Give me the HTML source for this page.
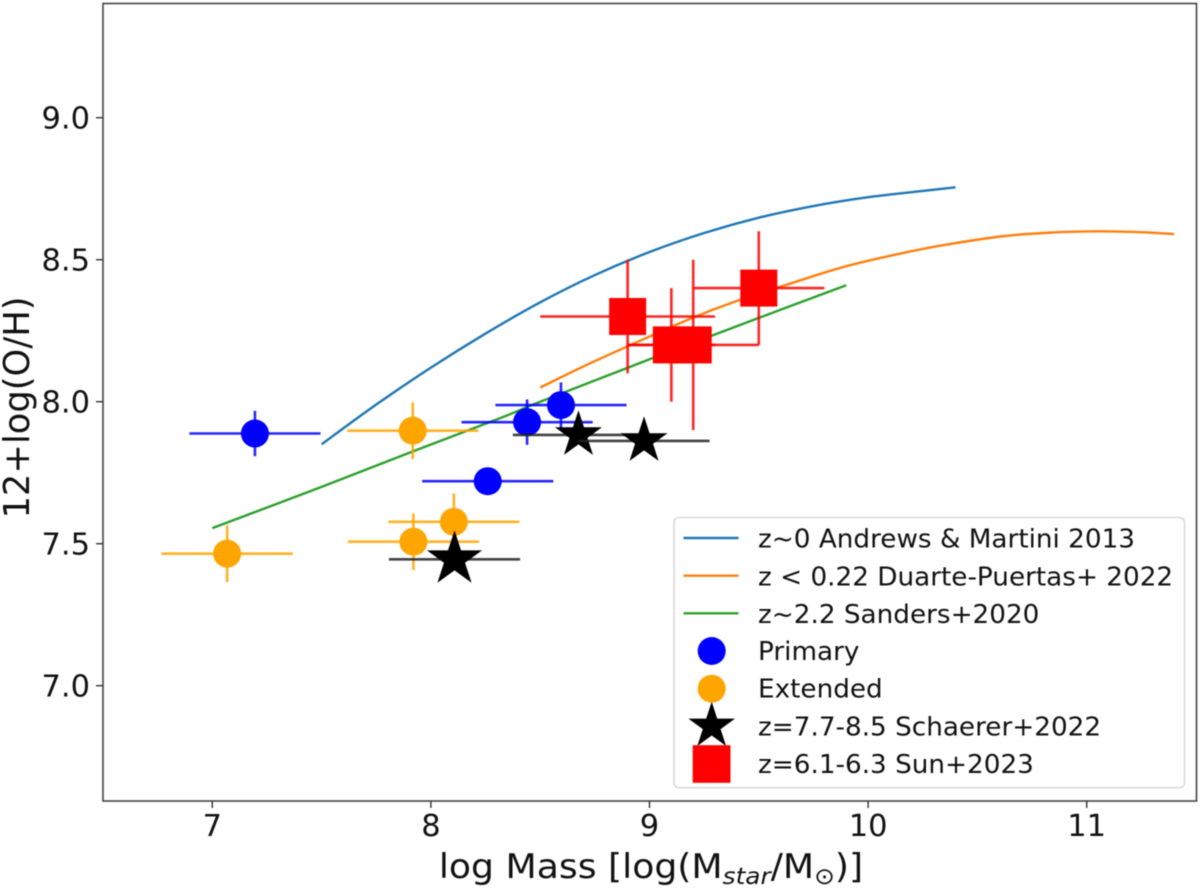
<!DOCTYPE html>
<html lang="en">
<head>
<meta charset="utf-8">
<title>Mass-metallicity relation</title>
<style>
html,body{margin:0;padding:0;background:#fff;width:1200px;height:889px;overflow:hidden}
svg{display:block;filter:blur(0.55px)}
text{font-family:"DejaVu Sans","Liberation Sans",sans-serif;fill:#111}
</style>
</head>
<body>
<svg id="chart" xmlns="http://www.w3.org/2000/svg" width="1200" height="889" viewBox="0 0 1200 889">
  <rect x="103" y="3.5" width="1093.5" height="797.5" fill="#fff"/>
  <g id="curves"></g>
  <g id="points"></g>
  <rect x="103" y="3.5" width="1093.5" height="797.5" fill="none" stroke="#444" stroke-width="1.6"/>
  <g id="ticks"></g>
  <text transform="translate(651,878) scale(1.08,1)" font-size="33.5" text-anchor="middle">log Mass [log(M<tspan font-size="23" font-style="italic" dy="6">star</tspan><tspan dy="-6">/M</tspan><tspan font-size="23" dy="6">⊙</tspan><tspan dy="-6">)]</tspan></text>
  <text transform="translate(29,407.5) rotate(-90)" font-size="35.3" text-anchor="middle">12+log(O/H)</text>
  <g>
    <rect x="674" y="517.5" width="510.5" height="270.2" rx="5" fill="#fff" fill-opacity="0.85" stroke="#d8d8d8" stroke-width="1.5"/>
    <g>
      <line x1="683.5" x2="738.5" y1="538" y2="538" stroke="#1f77b4" stroke-width="2.4"/>
      <text transform="translate(758,547.5) scale(1.03,1)" font-size="25.5">z~0 Andrews &amp; Martini 2013</text>
    </g>
    <g>
      <line x1="683.5" x2="738.5" y1="575.7" y2="575.7" stroke="#ff7f0e" stroke-width="2.4"/>
      <text transform="translate(758,585.5) scale(1.03,1)" font-size="25.5">z &lt; 0.22 Duarte-Puertas+ 2022</text>
    </g>
    <g>
      <line x1="683.5" x2="738.5" y1="613.3" y2="613.3" stroke="#2ca02c" stroke-width="2.4"/>
      <text transform="translate(758,623) scale(1.03,1)" font-size="25.5">z~2.2 Sanders+2020</text>
    </g>
    <g>
      <circle cx="711.7" cy="651" r="14" fill="#0000ff"/>
      <text transform="translate(758,660) scale(1.03,1)" font-size="25.5">Primary</text>
    </g>
    <g>
      <circle cx="711.7" cy="688.7" r="14" fill="#ffa500"/>
      <text transform="translate(758,697.7) scale(1.03,1)" font-size="25.5">Extended</text>
    </g>
    <g>
      <polygon id="legend-star" fill="#000"/>
      <text transform="translate(758,735.5) scale(1.03,1)" font-size="25.5">z=7.7-8.5 Schaerer+2022</text>
    </g>
    <g>
      <rect x="692.7" y="745.2" width="37.8" height="37.6" fill="#ff0000"/>
      <text transform="translate(758,773.2) scale(1.03,1)" font-size="25.5">z=6.1-6.3 Sun+2023</text>
    </g>
  </g>
</svg>
<script>
// Axis tick labels
const xTicks = [7, 8, 9, 10, 11];
const yTicks = ["7.0", "7.5", "8.0", "8.5", "9.0"];

// Relation curves
const andrewsMass = [7.5, 7.75, 8.0, 8.25, 8.5, 8.75, 9.0, 9.25, 9.5, 9.75, 10.0, 10.25, 10.4];
const andrewsOH = [7.85, 7.99, 8.12, 8.24, 8.35, 8.446, 8.527, 8.594, 8.648, 8.689, 8.72, 8.742, 8.755];
const duarteMass = [8.5, 8.7, 8.9, 9.18, 9.4, 9.66, 9.89, 10.15, 10.35, 10.62, 10.85, 11.05, 11.25, 11.4];
const duarteOH = [8.05, 8.125, 8.195, 8.29, 8.355, 8.42, 8.475, 8.522, 8.552, 8.583, 8.596, 8.60, 8.597, 8.59];
const sandersMass = [7.0, 7.5, 7.9, 8.32, 8.5, 9.02, 9.5, 9.9];
const sandersOH = [7.555, 7.70, 7.82, 7.943, 8.0, 8.155, 8.295, 8.41];

// Primary sample
const primaryMass = [7.195, 8.26, 8.44, 8.595];
const primaryOH = [7.888, 7.72, 7.928, 7.988];
const primaryMassErr = [0.3, 0.3, 0.3, 0.3];
const primaryOHErr = [0.08, 0, 0.08, 0.08];

// Extended sample
const extendedMass = [7.068, 7.917, 7.92, 8.105];
const extendedOH = [7.465, 7.898, 7.507, 7.577];
const extendedMassErr = [0.3, 0.3, 0.3, 0.3];
const extendedOHErr = [0.1, 0.1, 0.1, 0.1];

// Schaerer+2022
const schaererMass = [8.108, 8.675, 8.975];
const schaererOH = [7.445, 7.883, 7.862];
const schaererMassErr = [0.3, 0.3, 0.3];

// Sun+2023
const sunMass = [8.9, 9.5, 9.1, 9.2];
const sunOH = [8.3, 8.4, 8.2, 8.2];
const sunMassErr = [0.4, 0.3, 0.2, 0.3];
const sunOHErr = [0.2, 0.2, 0.2, 0.3];

const NS = 'http://www.w3.org/2000/svg';
function xs(v) { return 212.3 + (v - 7) * 218.6; }
function ys(v) { return 117.7 + (9 - v) * 284; }

function mk(tag, parent) {
  const el = document.createElementNS(NS, tag);
  parent.appendChild(el);
  return el;
}

function seg(parent, x1, y1, x2, y2, color, width, opacity) {
  const el = mk('line', parent);
  el.setAttribute('x1', x1);
  el.setAttribute('y1', y1);
  el.setAttribute('x2', x2);
  el.setAttribute('y2', y2);
  el.setAttribute('stroke', color);
  el.setAttribute('stroke-width', width);
  el.setAttribute('stroke-opacity', opacity);
  return el;
}

function starPoints(cx, cy, R) {
  const pts = [];
  for (let i = 0; i < 10; i++) {
    const r = i % 2 === 0 ? R : R * 0.382;
    const a = -Math.PI / 2 + i * Math.PI / 5;
    pts.push((cx + r * Math.cos(a)).toFixed(2) + ',' + (cy + r * Math.sin(a)).toFixed(2));
  }
  return pts.join(' ');
}

document.getElementById('legend-star').setAttribute('points', starPoints(711.7, 726.2, 24.5));

// Smooth path through the data points (Catmull-Rom)
function smoothPath(xv, yv) {
  const p = xv.map((v, i) => [xs(v), ys(yv[i])]);
  let d = 'M' + p[0][0] + ',' + p[0][1];
  for (let i = 0; i < p.length - 1; i++) {
    const p0 = p[Math.max(i - 1, 0)];
    const p1 = p[i];
    const p2 = p[i + 1];
    const p3 = p[Math.min(i + 2, p.length - 1)];
    const c1x = p1[0] + (p2[0] - p0[0]) / 6;
    const c1y = p1[1] + (p2[1] - p0[1]) / 6;
    const c2x = p2[0] - (p3[0] - p1[0]) / 6;
    const c2y = p2[1] - (p3[1] - p1[1]) / 6;
    d += ' C' + c1x + ',' + c1y + ' ' + c2x + ',' + c2y + ' ' + p2[0] + ',' + p2[1];
  }
  return d;
}

// Curves
const curvesG = document.getElementById('curves');
function drawCurve(xsArr, ysArr, color, name) {
  const el = mk('path', curvesG);
  
  
  el.setAttribute('fill', 'none');
  el.setAttribute('stroke', color);
  el.setAttribute('stroke-width', '2.4');
  el.setAttribute('d', smoothPath(xsArr, ysArr));
}
drawCurve(andrewsMass, andrewsOH, '#1f77b4', 'andrews-martini-curve');
drawCurve(duarteMass, duarteOH, '#ff7f0e', 'duarte-puertas-curve');
drawCurve(sandersMass, sandersOH, '#2ca02c', 'sanders-curve');

// Points
const pointsG = document.getElementById('points');

function drawErr(g, x, y, xe, ye, color) {
  if (xe > 0) {
    const h = seg(g, xs(x - xe), ys(y), xs(x + xe), ys(y), color, 2.6, 0.85);
    
    
  }
  if (ye > 0) {
    const v = seg(g, xs(x), ys(y + ye), xs(x), ys(y - ye), color, 2.6, 0.85);
    
    
  }
}

primaryMass.forEach((m, i) => {
  const g = mk('g', pointsG);
  
  
  drawErr(g, m, primaryOH[i], primaryMassErr[i], primaryOHErr[i], '#0000ff');
  const c = mk('circle', g);
  
  
  c.setAttribute('cx', xs(m));
  c.setAttribute('cy', ys(primaryOH[i]));
  c.setAttribute('r', 14);
  c.setAttribute('fill', '#0000ff');
});

extendedMass.forEach((m, i) => {
  const g = mk('g', pointsG);
  
  
  drawErr(g, m, extendedOH[i], extendedMassErr[i], extendedOHErr[i], '#ffa500');
  const c = mk('circle', g);
  
  
  c.setAttribute('cx', xs(m));
  c.setAttribute('cy', ys(extendedOH[i]));
  c.setAttribute('r', 14);
  c.setAttribute('fill', '#ffa500');
});

schaererMass.forEach((m, i) => {
  const g = mk('g', pointsG);
  
  
  drawErr(g, m, schaererOH[i], schaererMassErr[i], 0, '#222222');
  const s = mk('polygon', g);
  
  
  s.setAttribute('fill', '#000');
  s.setAttribute('points', starPoints(xs(m), ys(schaererOH[i]), i === 0 ? 29 : 24.7));
});

sunMass.forEach((m, i) => {
  const g = mk('g', pointsG);
  
  
  drawErr(g, m, sunOH[i], sunMassErr[i], sunOHErr[i], '#ff0000');
  const r = mk('rect', g);
  
  
  r.setAttribute('x', xs(m) - 18.5);
  r.setAttribute('y', ys(sunOH[i]) - 18.5);
  r.setAttribute('width', 37);
  r.setAttribute('height', 37);
  r.setAttribute('fill', '#ff0000');
});

// Ticks
const ticksG = document.getElementById('ticks');
xTicks.forEach(t => {
  const l = seg(ticksG, xs(t), 801, xs(t), 808, '#333', 1.4, 1);
  
  
  const tx = mk('text', ticksG);
  
  
  tx.setAttribute('x', xs(t));
  tx.setAttribute('y', 836);
  tx.setAttribute('font-size', '30.5');
  tx.setAttribute('text-anchor', 'middle');
  tx.textContent = t;
});
yTicks.forEach(t => {
  const l = seg(ticksG, 96, ys(+t), 103, ys(+t), '#333', 1.4, 1);
  
  
  const tx = mk('text', ticksG);
  
  
  tx.setAttribute('x', 90);
  tx.setAttribute('y', ys(+t) + 11);
  tx.setAttribute('font-size', '30.5');
  tx.setAttribute('text-anchor', 'end');
  tx.textContent = t;
});
</script>
</body>
</html>
